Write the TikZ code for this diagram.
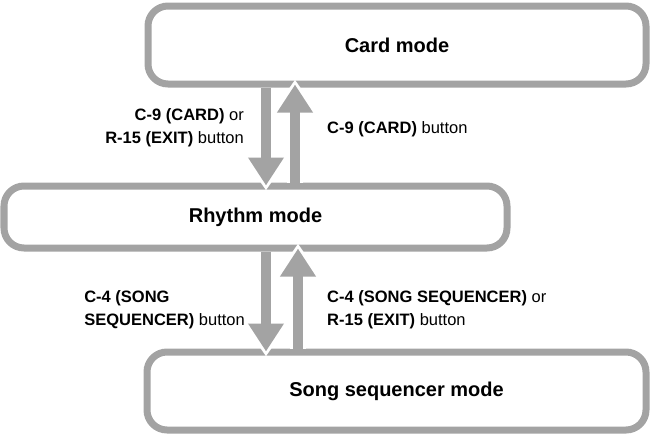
\documentclass[tikz,border=0pt]{standalone}
\usepackage{fontspec}
\setmainfont{Liberation Sans}
\usetikzlibrary{arrows.meta}
\definecolor{bx}{HTML}{A3A3A3}
\begin{document}
\begin{tikzpicture}[x=1pt,y=-1pt,
  box/.style={draw=bx,line width=7pt,rounded corners=20pt,fill=white,font=\bfseries\fontsize{20}{24}\selectfont},
  lbl/.style={font=\fontsize{16.5}{23}\selectfont},
  arr/.style={draw=bx,line width=10pt,-{Triangle[width=34pt,length=28pt]}},
  arrw/.style={draw=white,line width=16pt,-{Triangle[width=44pt,length=34pt]},shorten >=-4pt}]
\useasboundingbox (0,0) rectangle (651,437);
\node[box,minimum width=498pt,minimum height=78pt] (card) at (397,45) {Card mode};
\node[box,minimum width=503pt,minimum height=62pt] (rhythm) at (255.5,217) {Rhythm mode};
\node[box,minimum width=499pt,minimum height=78pt] (song) at (396.5,391) {Song sequencer mode};
\coordinate (d1) at (266,0);
\coordinate (u1) at (295,0);
\coordinate (d2) at (266,0);
\coordinate (u2) at (298,0);
\draw[arrw] (d1 |- card.south) -- ([yshift=-4pt]d1 |- rhythm.north);
\draw[arrw] (u1 |- rhythm.north) -- ([yshift=4pt]u1 |- card.south);
\draw[arrw] (d2 |- rhythm.south) -- ([yshift=-4pt]d2 |- song.north);
\draw[arrw] (u2 |- song.north) -- ([yshift=4pt]u2 |- rhythm.south);
\draw[arr] (d1 |- card.south) -- ([yshift=-3pt]d1 |- rhythm.north);
\draw[arr] (u1 |- rhythm.north) -- ([yshift=3pt]u1 |- card.south);
\draw[arr] (d2 |- rhythm.south) -- ([yshift=-3pt]d2 |- song.north);
\draw[arr] (u2 |- song.north) -- ([yshift=3pt]u2 |- rhythm.south);
\node[lbl,align=right,anchor=east,inner sep=0pt] (l1) at (244,128) {\textbf{C-9 (CARD)} or\\\textbf{R-15 (EXIT)} button};
\node[lbl,align=left,anchor=west,inner sep=0pt] (l2) at (327,129) {\textbf{C-9 (CARD)} button};
\node[lbl,align=left,anchor=east,inner sep=0pt] (l3) at (245,310) {\hfill\textbf{C-4 (SONG}\\\textbf{SEQUENCER)} button};
\node[lbl,align=left,anchor=west,inner sep=0pt] (l4) at (327,310) {\textbf{C-4 (SONG SEQUENCER)} or\\\textbf{R-15 (EXIT)} button};
\end{tikzpicture}
\end{document}
